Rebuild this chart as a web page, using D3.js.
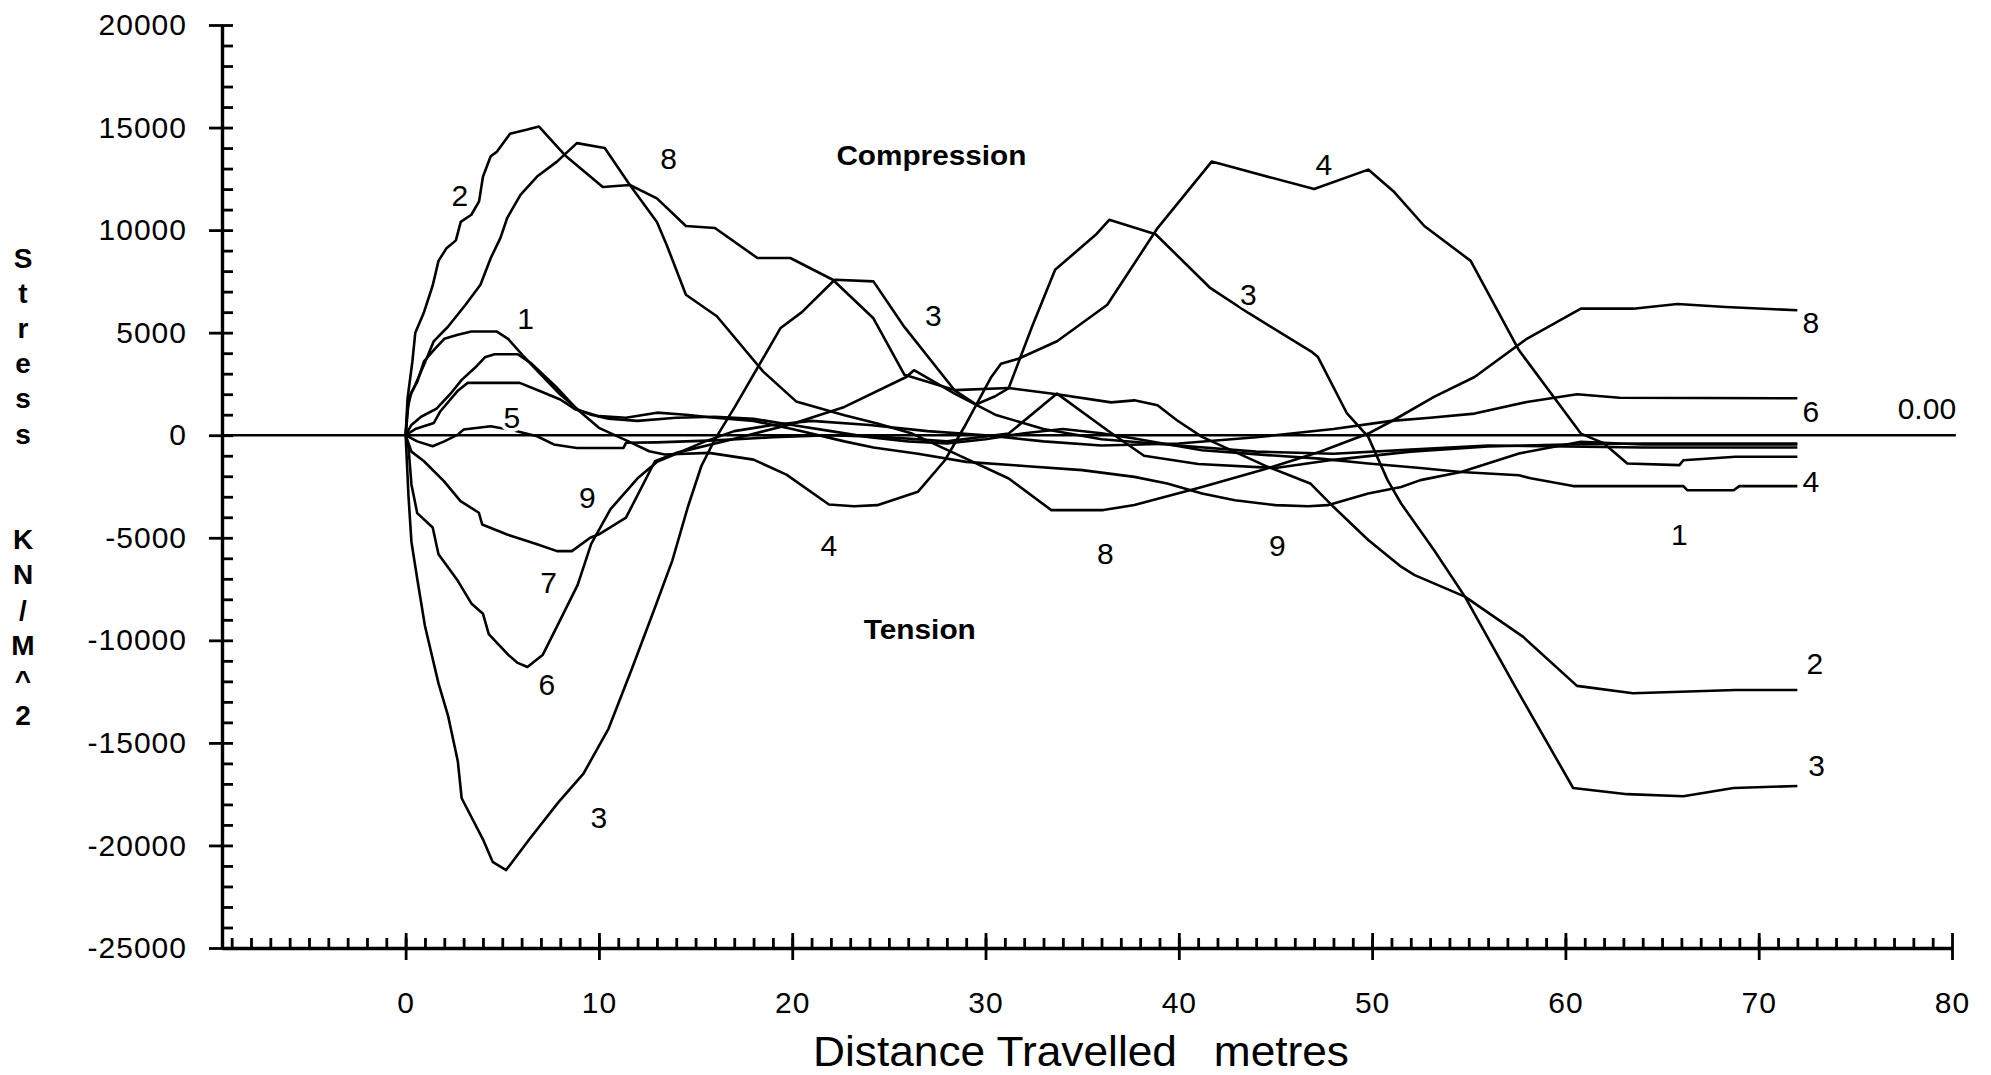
<!DOCTYPE html>
<html>
<head>
<meta charset="UTF-8">
<style>
  body { margin: 0; background: #fff; }
  svg { display: block; }
  .tick text { font: 30px "Liberation Sans", sans-serif; letter-spacing: 1px; fill: #000; }
  .tick line { stroke: #000; stroke-width: 2.8; }
  .domain { stroke: #000; stroke-width: 3.4; }
  .curve { fill: none; stroke: #000; stroke-width: 2.6; stroke-linejoin: round; }
  .zero { stroke: #000; stroke-width: 2.6; }
  .curve-label { font: 30px "Liberation Sans", sans-serif; fill: #000; stroke: #fff; stroke-width: 8px; paint-order: stroke; }
  .note { font: bold 28px "Liberation Sans", sans-serif; fill: #000; }
  .ytitle { font: bold 28px "Liberation Sans", sans-serif; fill: #000; }
  .xtitle { font: 42px "Liberation Sans", sans-serif; fill: #000; white-space: pre; }
</style>
<script src="https://cdn.jsdelivr.net/npm/d3@7"></script>
</head>
<body>
<script>
// stress readings, [distance m, stress kN/m^2]
var series1 = [[0,0],[0.1,1300],[0.3,2100],[0.6,2600],[0.95,3600],[1.5,4200],[2,4700],[2.7,4900],[3.4,5060],[4.7,5060],[5.3,4700],[6.1,3850],[7,2950],[8,1980],[8.9,1250],[9.6,1000],[10.5,800],[12,700],[14,850],[16,900],[18,800],[20,500],[22,200],[24,-100],[26,-300],[28,-400],[30,-200],[32,100],[34,300],[36,100],[37.7,-160],[41.2,-730],[44.6,-970],[47.3,-1140],[49.8,-1380],[52.5,-1600],[54.6,-1790],[57.6,-1950],[58.2,-2100],[60.4,-2480],[66.1,-2480],[66.3,-2680],[68.7,-2680],[69,-2480],[72,-2480]];
var series2 = [[0,0],[0.1,1800],[0.35,3600],[0.5,5000],[0.95,6000],[1.4,7300],[1.7,8500],[2.1,9100],[2.6,9500],[2.85,10400],[3.4,10750],[3.8,11400],[4,12600],[4.4,13600],[4.7,13800],[5.4,14700],[6.3,14900],[6.9,15050],[8.3,13600],[10.2,12100],[11.6,12200],[13,11550],[14.5,10200],[16,10100],[18.2,8640],[19.9,8640],[22.1,7580],[24.2,5700],[25.8,2950],[28.4,2200],[31.2,2300],[33.7,2000],[36.5,1600],[37.7,1700],[38.9,1460],[39.9,730],[41.2,-80],[44.6,-1540],[46.8,-2350],[48,-3490],[49.8,-5110],[51.5,-6410],[52.2,-6820],[54.8,-7870],[57.8,-9820],[60.6,-12220],[63.5,-12580],[68.8,-12420],[72,-12420]];
var series3 = [[0,0],[0.15,-3000],[0.3,-5200],[0.6,-7000],[1,-9300],[1.7,-12100],[2.2,-13700],[2.7,-15900],[2.9,-17700],[4,-19700],[4.5,-20800],[5.2,-21200],[6.4,-19700],[7.9,-17900],[9.2,-16500],[10.5,-14300],[11.7,-11400],[12.9,-8400],[13.8,-6100],[14.6,-3500],[15.3,-1500],[16,-200],[17,1330],[19.4,5230],[20.5,6000],[22.2,7580],[24.2,7500],[25.8,5280],[28.4,2190],[29.5,1500],[30.5,1900],[31.2,2300],[32.4,5280],[33.6,8070],[35.7,9770],[36.4,10500],[38.8,9800],[41.6,7200],[43.6,5960],[46.9,4050],[47.2,3810],[48.7,1060],[49.8,-80],[50.8,-2190],[51.5,-3330],[53.2,-5600],[54.8,-7870],[57.4,-12260],[60.4,-17200],[63.2,-17500],[66.1,-17600],[68.7,-17200],[72,-17100]];
var series4 = [[0,0],[0.3,500],[0.8,900],[1.6,1300],[2.3,2000],[2.9,2700],[3.6,3300],[4.1,3800],[4.6,3950],[5.8,3950],[6.5,3500],[7.75,2390],[8.8,1330],[10,360],[11.5,-290],[12.6,-780],[13.4,-940],[15.7,-860],[18,-1190],[19.7,-1920],[21.9,-3380],[23.2,-3460],[24.4,-3410],[26.5,-2760],[27.9,-1220],[28.9,400],[30.3,2840],[30.8,3490],[31.7,3730],[33.7,4580],[36.3,6360],[38.9,10100],[41.7,13340],[47,12000],[49.8,12950],[51.1,11900],[52.7,10200],[55.1,8500],[57.6,4140],[60.8,80],[62,-400],[63.2,-1380],[65.9,-1460],[66.1,-1220],[68.8,-1050],[72,-1050]];
var series5 = [[0,0],[0.6,-300],[1.4,-540],[2,-300],[2.7,30],[3,280],[4.4,440],[5.5,250],[6.8,-50],[7.66,-450],[8.86,-620],[11.27,-620],[11.4,-370],[13,-350],[16,-250],[19,-100],[22,0],[25,-100],[28,-300],[31.2,80],[33.7,2030],[36.3,240],[38.2,-1000],[41,-1400],[45,-1600],[48,-1200],[52,-800],[56,-550],[60,-450],[64,-400],[72,-400]];
var series6 = [[0,0],[0.15,-600],[0.3,-2400],[0.6,-3800],[1.4,-4500],[1.7,-5800],[2.7,-7100],[3.4,-8200],[4,-8700],[4.3,-9700],[4.8,-10200],[5.3,-10700],[5.8,-11100],[6.3,-11300],[7.1,-10700],[8,-9000],[8.9,-7300],[9.6,-5300],[10.6,-3600],[12,-2100],[13,-1300],[14,-900],[15.5,-300],[17,200],[19,500],[21,700],[24,500],[27,200],[30,0],[33,-300],[36,-500],[40,-400],[44,-100],[48,300],[51,700],[53,850],[55.3,1055],[58,1620],[60.6,2000],[62.8,1830],[72,1800]];
var series7 = [[0,0],[0.3,-800],[0.95,-1270],[1.98,-2240],[2.84,-3210],[3.79,-3780],[3.96,-4350],[5.25,-4840],[6.8,-5320],[7.83,-5650],[8.6,-5650],[9.55,-5000],[10,-4830],[11.4,-4020],[12.9,-1270],[14,-860],[16.5,-290],[19.9,520],[22.7,1380],[25.9,2840],[26.3,3170],[28.4,2030],[30.5,1000],[33,300],[36,-200],[40,-500],[44,-800],[48,-900],[52,-700],[56,-500],[60,-550],[64,-600],[72,-600]];
var series8 = [[0,0],[0.17,1820],[0.43,2300],[0.95,3440],[1.46,4590],[2.2,5300],[3.1,6360],[3.87,7340],[4.4,8630],[4.9,9610],[5.25,10580],[5.94,11720],[6.8,12610],[7.83,13340],[8.86,14240],[10.3,14000],[11.6,12200],[13,10400],[13.5,9290],[14.5,6850],[16.1,5800],[18.5,3100],[20.2,1650],[22.7,970],[24.4,570],[26.2,80],[28.6,-970],[31.2,-2110],[33.4,-3650],[36.1,-3650],[37.7,-3400],[41.2,-2520],[44.3,-1700],[47.3,-810],[49.8,80],[51.1,730],[53.2,1870],[55.3,2840],[58,4700],[60.8,6170],[63.5,6170],[65.8,6400],[68.3,6250],[72,6090]];
var series9 = [[0,0],[0.5,300],[1.46,600],[1.8,1170],[2.67,2140],[3.2,2550],[5.9,2550],[6.97,2140],[8,1740],[8.8,1250],[10,930],[11.4,850],[13,1100],[14.5,1000],[16,850],[18,700],[20,300],[22.7,-300],[24.2,-600],[26.5,-900],[29,-1300],[32,-1500],[35,-1700],[37.7,-2030],[39.4,-2350],[41.2,-2840],[42.9,-3170],[45,-3410],[46.7,-3460],[47.7,-3410],[49.8,-2840],[51.5,-2520],[52.5,-2190],[54.6,-1790],[57.6,-890],[60.8,-320],[64,-450],[72,-450]];

var allSeries = [series1, series2, series3, series4, series5, series6, series7, series8, series9];

// curve number labels as placed on the plot, [text, distance, stress]
var curveLabels = [["2",2.8,11700],["8",13.6,13500],["1",6.2,5700],["5",5.5,850],["9",9.4,-3030],["7",7.4,-7190],["6",7.3,-12140],["3",10.0,-18640],["4",21.9,-5360],["3",27.3,5820],["8",36.2,-5760],["3",43.6,6850],["4",47.5,13190],["9",45.1,-5400],["1",65.9,-4830],["8",72.7,5500],["6",72.7,1160],["4",72.7,-2280],["2",72.9,-11130],["3",73.0,-16080]];

var xMajor = [0, 10, 20, 30, 40, 50, 60, 70, 80];
var yMajor = [-25000, -20000, -15000, -10000, -5000, 0, 5000, 10000, 15000, 20000];

var width = 1991, height = 1075;

var x = d3.scaleLinear().domain([-9.5, 80]).range([222, 1952]);
var y = d3.scaleLinear().domain([-25000, 20000]).range([948, 25]);

var svg = d3.select("body").append("svg")
  .attr("width", width)
  .attr("height", height);

function clean(g) {
  g.attr("font-size", null).attr("font-family", null);
}

// y axis: major ticks cross, minor ticks inside
svg.append("g")
  .attr("transform", "translate(" + x(-9.5) + ",0)")
  .call(d3.axisLeft(y).tickValues(yMajor).tickSize(13).tickSizeOuter(0).tickPadding(22)
    .tickFormat(function(d) { return String(d); }))
  .call(clean);

svg.append("g")
  .attr("transform", "translate(" + x(-9.5) + ",0)")
  .call(d3.axisRight(y).tickValues(d3.range(-25000, 20001, 1000)).tickSize(11).tickSizeOuter(0).tickFormat(""))
  .call(clean)
  .select(".domain").remove();

// x axis
svg.append("g")
  .attr("transform", "translate(0," + y(-25000) + ")")
  .call(d3.axisBottom(x).tickValues(xMajor).tickSize(12).tickSizeOuter(0).tickPadding(32)
    .tickFormat(function(d) { return String(d); }))
  .call(clean);

svg.append("g")
  .attr("transform", "translate(0," + y(-25000) + ")")
  .call(d3.axisTop(x).tickValues(d3.range(-9, 80, 1)).tickSize(10).tickSizeOuter(0).tickFormat(""))
  .call(clean)
  .select(".domain").remove();

svg.append("g")
  .attr("transform", "translate(0," + y(-25000) + ")")
  .call(d3.axisTop(x).tickValues(xMajor).tickSize(15).tickSizeOuter(0).tickFormat(""))
  .call(clean)
  .select(".domain").remove();

// zero reference line
svg.append("line")
  .attr("class", "zero")
  .attr("x1", x(-9.5)).attr("x2", x(80.2))
  .attr("y1", y(0)).attr("y2", y(0));

svg.append("text")
  .attr("class", "curve-label")
  .attr("x", x(78.7)).attr("y", y(1300))
  .attr("text-anchor", "middle")
  .attr("dominant-baseline", "central")
  .style("stroke", "none")
  .text("0.00");

var line = d3.line()
  .x(function(d) { return x(d[0]); })
  .y(function(d) { return y(d[1]); });

svg.selectAll(".curve")
  .data(allSeries)
  .enter().append("path")
  .attr("class", "curve")
  .attr("d", line);

svg.selectAll(".curve-label.num")
  .data(curveLabels)
  .enter().append("text")
  .attr("class", "curve-label num")
  .attr("x", function(d) { return x(d[1]); })
  .attr("y", function(d) { return y(d[2]); })
  .attr("text-anchor", "middle")
  .attr("dominant-baseline", "central")
  .text(function(d) { return d[0]; });

svg.append("text")
  .attr("class", "note")
  .attr("x", x(27.2)).attr("y", y(13660))
  .attr("text-anchor", "middle")
  .attr("dominant-baseline", "central")
  .attr("textLength", 190).attr("lengthAdjust", "spacingAndGlyphs")
  .text("Compression");

svg.append("text")
  .attr("class", "note")
  .attr("x", x(26.6)).attr("y", y(-9450))
  .attr("text-anchor", "middle")
  .attr("dominant-baseline", "central")
  .attr("textLength", 112).attr("lengthAdjust", "spacingAndGlyphs")
  .text("Tension");

// vertical axis title, one letter per row
var titleChars = "Stress  KN/M^2".split("");
svg.append("g").selectAll("text")
  .data(titleChars)
  .enter().append("text")
  .attr("class", "ytitle")
  .attr("x", 23)
  .attr("y", function(d, i) { return 258 + i * 35.2; })
  .attr("text-anchor", "middle")
  .attr("dominant-baseline", "central")
  .text(function(d) { return d; });

svg.append("text")
  .attr("class", "xtitle")
  .attr("x", 1081).attr("y", 1066)
  .attr("text-anchor", "middle")
  .attr("textLength", 536).attr("lengthAdjust", "spacingAndGlyphs")
  .text("Distance Travelled   metres");
</script>
</body>
</html>
